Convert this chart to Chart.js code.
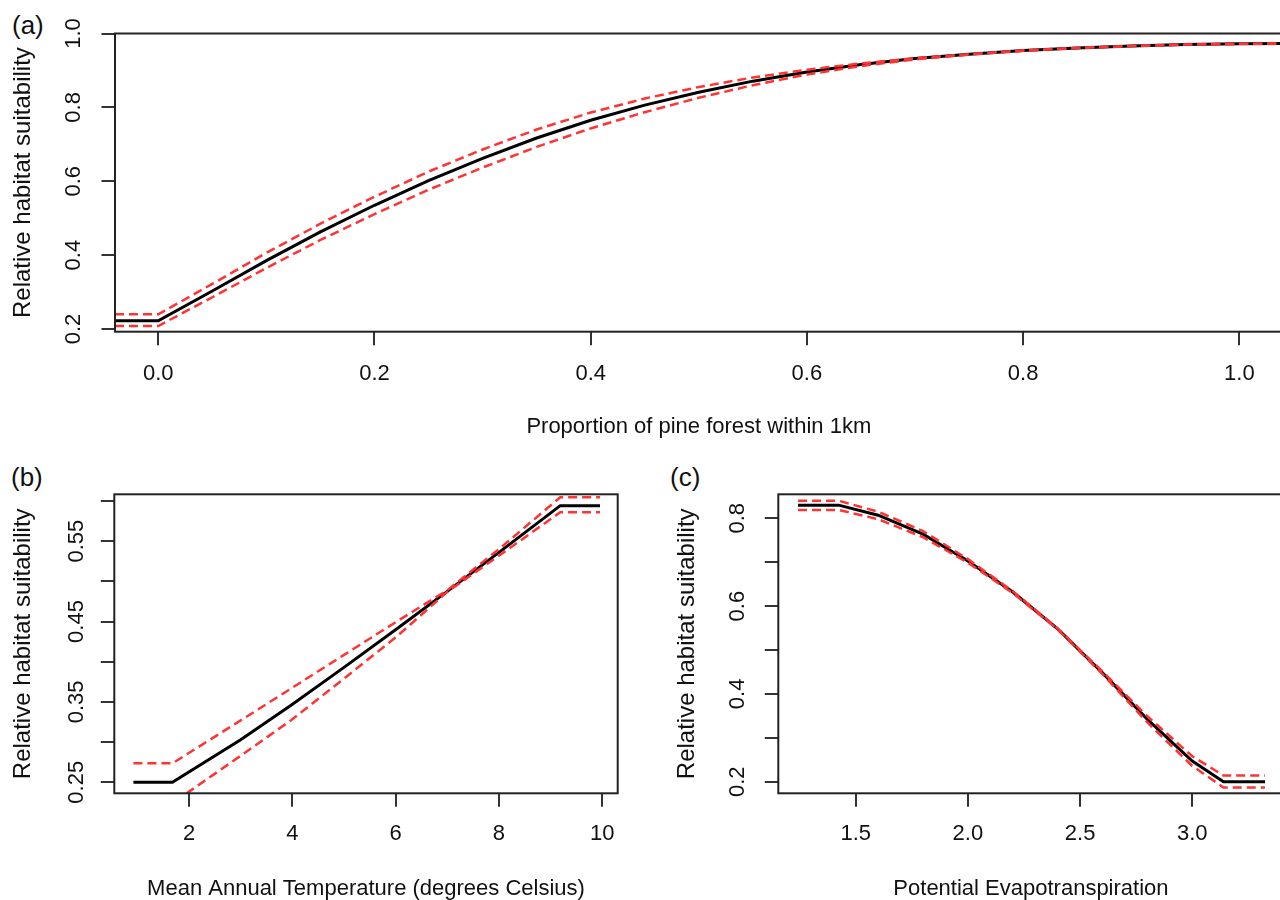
<!DOCTYPE html>
<html>
<head>
<meta charset="utf-8">
<script src="https://cdn.jsdelivr.net/npm/chart.js@4.4.1/dist/chart.umd.min.js"></script>
<style>
  html, body { margin: 0; padding: 0; background: #fff; width: 1280px; height: 900px; overflow: hidden; position: relative; }
  canvas { position: absolute; }
  .tag { position: absolute; font: 26px "Liberation Sans", Arial, sans-serif; line-height: 26px; color: #111; }
</style>
</head>
<body>
<div class="tag" style="left:12px;top:12px">(a)</div>
<div class="tag" style="left:11px;top:464px">(b)</div>
<div class="tag" style="left:670px;top:464px">(c)</div>
<canvas id="chartA" width="1290" height="450" style="left:0;top:0"></canvas>
<canvas id="chartB" width="660" height="460" style="left:0;top:450px"></canvas>
<canvas id="chartC" width="630" height="460" style="left:660px;top:450px"></canvas>
<script>
const FONT = '"Liberation Sans", Arial, sans-serif';
const RED = '#ff3333';
const INK = '#111';

// (a) pine forest within 1km
const aX = [-0.04, 0, 0.05, 0.1, 0.15, 0.2, 0.25, 0.3, 0.35, 0.4, 0.45, 0.5, 0.55, 0.6, 0.65, 0.7, 0.75, 0.8, 0.85, 0.9, 0.95, 1.0, 1.04];
const aFit = [0.2225, 0.2225, 0.303, 0.385, 0.463, 0.535, 0.602, 0.662, 0.717, 0.765, 0.806, 0.841, 0.871, 0.896, 0.916, 0.932, 0.944, 0.954, 0.961, 0.966, 0.970, 0.972, 0.973];
const aUpper = [0.2397, 0.2397, 0.322, 0.406, 0.485, 0.558, 0.626, 0.686, 0.740, 0.786, 0.824, 0.855, 0.881, 0.902, 0.919, 0.933, 0.944, 0.954, 0.961, 0.966, 0.970, 0.972, 0.973];
const aLower = [0.2081, 0.2081, 0.286, 0.365, 0.441, 0.511, 0.577, 0.637, 0.693, 0.743, 0.787, 0.826, 0.860, 0.889, 0.912, 0.930, 0.943, 0.953, 0.961, 0.966, 0.970, 0.972, 0.973];
const aXTicks = [0, 0.2, 0.4, 0.6, 0.8, 1.0];
const aXLabels = ['0.0', '0.2', '0.4', '0.6', '0.8', '1.0'];
const aYTicks = [0.2, 0.4, 0.6, 0.8, 1.0];
const aYLabels = ['0.2', '0.4', '0.6', '0.8', '1.0'];

// (b) mean annual temperature
const bX = [0.924, 1.679, 3.0, 3.982, 5.0, 6.018, 7.0, 8.019, 9.186, 9.955];
const bFit = [0.25, 0.25, 0.303, 0.3462, 0.393, 0.4408, 0.4875, 0.537, 0.5942, 0.5942];
const bUpper = [0.2736, 0.2736, 0.327, 0.3669, 0.4085, 0.4499, 0.489, 0.5411, 0.6046, 0.6046];
const bLower = [0.224, 0.224, 0.283, 0.3275, 0.379, 0.4312, 0.487, 0.5328, 0.5859, 0.5859];
const bXTicks = [2, 4, 6, 8, 10];
const bXLabels = ['2', '4', '6', '8', '10'];
const bYTicks = [0.25, 0.30, 0.35, 0.40, 0.45, 0.50, 0.55, 0.60];
const bYLabels = ['0.25', '', '0.35', '', '0.45', '', '0.55', ''];

// (c) potential evapotranspiration
const cX = [1.243, 1.424, 1.6, 1.8, 2.0, 2.2, 2.4, 2.6, 2.8, 3.0, 3.139, 3.324];
const cFit = [0.830, 0.830, 0.807, 0.764, 0.703, 0.632, 0.548, 0.448, 0.342, 0.247, 0.200, 0.200];
const cUpper = [0.840, 0.840, 0.815, 0.771, 0.707, 0.634, 0.549, 0.451, 0.349, 0.258, 0.214, 0.214];
const cLower = [0.819, 0.819, 0.798, 0.757, 0.699, 0.630, 0.547, 0.445, 0.335, 0.236, 0.187, 0.187];
const cXTicks = [1.5, 2.0, 2.5, 3.0];
const cXLabels = ['1.5', '2.0', '2.5', '3.0'];
const cYTicks = [0.2, 0.3, 0.4, 0.5, 0.6, 0.7, 0.8];
const cYLabels = ['0.2', '', '0.4', '', '0.6', '', '0.8'];

// frame round the plot region, like R's box()
const boxPlugin = {
    id: 'box',
    afterDatasetsDraw(chart) {
        const { ctx, chartArea: a } = chart;
        ctx.save();
        ctx.strokeStyle = '#222';
        ctx.lineWidth = 2;
        ctx.strokeRect(a.left, a.top, a.right - a.left, a.bottom - a.top);
        ctx.restore();
    }
};

const pts = (xs, ys) => xs.map((x, i) => ({ x: x, y: ys[i] }));

function makePanel(id, p) {
    const tickGrid = {
        display: true,
        drawOnChartArea: false,
        drawTicks: true,
        tickLength: 13.5,
        tickWidth: 2,
        lineWidth: 2,
        tickColor: '#333',
        color: '#333'
    };
    return new Chart(document.getElementById(id), {
        type: 'line',
        data: {
            datasets: [
                { data: pts(p.x, p.upper), borderColor: RED, borderWidth: 2.5, borderDash: [9, 5], pointRadius: 0, tension: 0, clip: 0 },
                { data: pts(p.x, p.lower), borderColor: RED, borderWidth: 2.5, borderDash: [9, 5], pointRadius: 0, tension: 0, clip: 0 },
                { data: pts(p.x, p.fit), borderColor: '#000', borderWidth: 3, pointRadius: 0, tension: 0, clip: 0 }
            ]
        },
        options: {
            responsive: false,
            animation: false,
            events: [],
            layout: { padding: { top: p.padTop, right: p.padRight, left: 0, bottom: 0 } },
            plugins: { legend: { display: false }, tooltip: { enabled: false } },
            scales: {
                x: {
                    type: 'linear',
                    min: p.xMin,
                    max: p.xMax,
                    afterBuildTicks: s => { s.ticks = p.xTicks.map(v => ({ value: v })); },
                    afterFit: s => { s.height = p.xAxisH; },
                    grid: tickGrid,
                    border: { display: false },
                    ticks: {
                        autoSkip: false, maxRotation: 0, minRotation: 0,
                        padding: p.xTickPad, color: INK,
                        font: { family: FONT, size: 22 },
                        callback: (v, i) => p.xLabels[i]
                    },
                    title: {
                        display: true, text: p.xTitle, color: INK,
                        font: { family: FONT, size: 22 },
                        padding: { top: 0, bottom: p.xTitlePad }
                    }
                },
                y: {
                    type: 'linear',
                    min: p.yMin,
                    max: p.yMax,
                    afterBuildTicks: s => { s.ticks = p.yTicks.map(v => ({ value: v })); },
                    afterFit: s => { s.width = p.yAxisW; },
                    grid: tickGrid,
                    border: { display: false },
                    ticks: {
                        autoSkip: false, minRotation: 90, maxRotation: 90, crossAlign: 'center',
                        padding: p.yTickPad, color: INK,
                        font: { family: FONT, size: 22 },
                        callback: (v, i) => p.yLabels[i]
                    },
                    title: {
                        display: true, text: 'Relative habitat suitability', color: INK,
                        font: { family: FONT, size: 24 },
                        padding: { top: p.yTitlePad, bottom: 0 }
                    }
                }
            }
        },
        plugins: [boxPlugin]
    });
}

makePanel('chartA', {
    x: aX, fit: aFit, upper: aUpper, lower: aLower,
    xTicks: aXTicks, xLabels: aXLabels, yTicks: aYTicks, yLabels: aYLabels,
    xMin: -0.04, xMax: 1.04, yMin: 0.1927, yMax: 1.0,
    xTitle: 'Proportion of pine forest within 1km',
    padTop: 33.5, padRight: 7.4, yAxisW: 115, xAxisH: 118.3,
    xTickPad: 15.6, yTickPad: 12.2, xTitlePad: 9.8, yTitlePad: 8.6
});

makePanel('chartB', {
    x: bX, fit: bFit, upper: bUpper, lower: bLower,
    xTicks: bXTicks, xLabels: bXLabels, yTicks: bYTicks, yLabels: bYLabels,
    xMin: 0.554, xMax: 10.298, yMin: 0.2363, yMax: 0.6083,
    xTitle: 'Mean Annual Temperature (degrees Celsius)',
    padTop: 44.3, padRight: 42.3, yAxisW: 114.3, xAxisH: 116.7,
    xTickPad: 14.0, yTickPad: 2.7, xTitlePad: 7.8, yTitlePad: 8.6
});

makePanel('chartC', {
    x: cX, fit: cFit, upper: cUpper, lower: cLower,
    xTicks: cXTicks, xLabels: cXLabels, yTicks: cYTicks, yLabels: cYLabels,
    xMin: 1.155, xMax: 3.407, yMin: 0.1736, yMax: 0.8547,
    xTitle: 'Potential Evapotranspiration',
    padTop: 44.3, padRight: 6.4, yAxisW: 118.3, xAxisH: 116.7,
    xTickPad: 14.0, yTickPad: 11.2, xTitlePad: 7.8, yTitlePad: 13.1
});
</script>
</body>
</html>
